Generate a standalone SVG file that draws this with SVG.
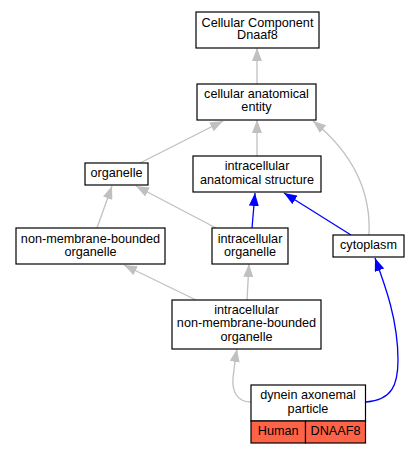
<svg xmlns="http://www.w3.org/2000/svg" width="420" height="453" viewBox="0 0 420 453">
<style>
.box{fill:#fff;stroke:#000;stroke-width:1.2}
.red{fill:#ff6347;stroke:#000;stroke-width:1.2}
text{font-family:"Liberation Sans",Arial,sans-serif;font-size:12.67px;fill:#000;text-anchor:middle}
.g{fill:none;stroke:#c0c0c0;stroke-width:1.3}
.b{fill:none;stroke:#0000ff;stroke-width:1.3}
</style>
<defs>
<marker id="ag" viewBox="0 0 13 10" refX="13" refY="5" markerWidth="13" markerHeight="10" markerUnits="userSpaceOnUse" orient="auto"><path d="M0,0 L13,5 L0,10 z" fill="#c0c0c0"/></marker>
<marker id="ab" viewBox="0 0 13 10" refX="13" refY="5" markerWidth="13" markerHeight="10" markerUnits="userSpaceOnUse" orient="auto"><path d="M0,0 L13,5 L0,10 z" fill="#0000ff"/></marker>
</defs>
<rect width="420" height="453" fill="#fff"/>
<g id="edges">
<path class="g" marker-end="url(#ag)" d="M257,84 L257,48"/>
<path class="g" marker-end="url(#ag)" d="M257,156 L257,120"/>
<path class="g" marker-end="url(#ag)" d="M140,163 L223,121"/>
<path class="g" marker-end="url(#ag)" d="M369,235 C371,195 355,155 313,121"/>
<path class="g" marker-end="url(#ag)" d="M97,228 L112,186"/>
<path class="g" marker-end="url(#ag)" d="M216,228 L136,186"/>
<path class="b" marker-end="url(#ab)" d="M252,228 L255,193"/>
<path class="b" marker-end="url(#ab)" d="M351,235 L284,193"/>
<path class="g" marker-end="url(#ag)" d="M196,300 L124,265"/>
<path class="g" marker-end="url(#ag)" d="M247,300 L249,264"/>
<path class="g" marker-end="url(#ag)" d="M251,402 C236,402 232,390 233,378 C234,370 235,360 237,349"/>
<path class="b" marker-end="url(#ab)" d="M366,402 C392,400 398,385 398,360 C398,320 385,285 375,258"/>
</g>
<g id="n1"><rect class="box" x="196" y="12" width="123" height="36"/><text x="257.5" y="26.5">Cellular Component</text><text x="257.5" y="39">Dnaaf8</text></g>
<g id="n2"><rect class="box" x="197" y="84" width="119" height="36"/><text x="256.5" y="98">cellular anatomical</text><text x="256.5" y="111">entity</text></g>
<g id="n3"><rect class="box" x="85" y="163" width="63" height="22"/><text x="116.5" y="177">organelle</text></g>
<g id="n4"><rect class="box" x="193" y="156" width="128" height="36"/><text x="257" y="170">intracellular</text><text x="257" y="183.5">anatomical structure</text></g>
<g id="n5"><rect class="box" x="16" y="228" width="149" height="36"/><text x="90.5" y="242.8">non-membrane-bounded</text><text x="90.5" y="255.5">organelle</text></g>
<g id="n6"><rect class="box" x="212" y="228" width="76" height="36"/><text x="250" y="242.8">intracellular</text><text x="250" y="255.5">organelle</text></g>
<g id="n7"><rect class="box" x="333" y="235" width="71" height="22"/><text x="368.5" y="248.8">cytoplasm</text></g>
<g id="n8"><rect class="box" x="172" y="300" width="149" height="49"/><text x="246.5" y="313.8">intracellular</text><text x="246.5" y="327">non-membrane-bounded</text><text x="246.5" y="340.5">organelle</text></g>
<g id="n9"><rect class="box" x="251" y="385" width="114.5" height="36"/><rect class="red" x="251" y="421" width="54.5" height="22"/><rect class="red" x="305.5" y="421" width="60" height="22"/><text x="308" y="398.8">dynein axonemal</text><text x="308" y="412.8">particle</text><text x="278.2" y="435">Human</text><text x="335.5" y="435">DNAAF8</text></g>
</svg>
